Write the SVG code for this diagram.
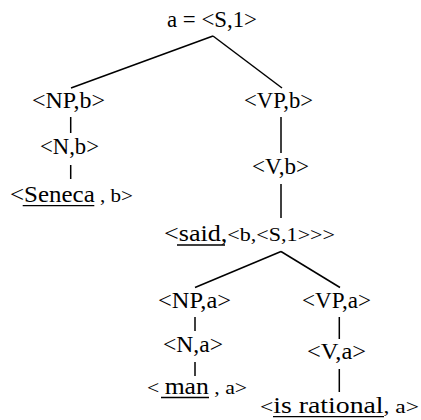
<svg xmlns="http://www.w3.org/2000/svg" width="421" height="420" viewBox="0 0 421 420">
  <style>
    .lbl { font-family: "Liberation Serif", "Times New Roman", serif; font-size: 22.5px; fill: #000; }
    .sm { font-size: 19px; }
    .edge { stroke: #000; stroke-width: 1.5; fill: none; }
    .ul { stroke: #000; stroke-width: 1.3; }
  </style>
  <rect width="421" height="420" fill="#fff"/>

  <g id="connectors">
    <line class="edge" x1="213" y1="36" x2="71" y2="88"/>
    <line class="edge" x1="213" y1="36" x2="282" y2="88"/>
    <line class="edge" x1="70.7" y1="117" x2="70.7" y2="133"/>
    <line class="edge" x1="70.7" y1="165" x2="70.7" y2="179"/>
    <line class="edge" x1="281" y1="117" x2="281" y2="153"/>
    <line class="edge" x1="281" y1="184" x2="281" y2="218"/>
    <line class="edge" x1="281" y1="251.5" x2="195" y2="287.5"/>
    <line class="edge" x1="281" y1="251.5" x2="340" y2="287.5"/>
    <line class="edge" x1="195" y1="317" x2="195" y2="331"/>
    <line class="edge" x1="195" y1="362" x2="195" y2="376"/>
    <line class="edge" x1="339.3" y1="317" x2="339.3" y2="339"/>
    <line class="edge" x1="339.3" y1="369" x2="339.3" y2="392"/>
  </g>

  <g id="node-root">
    <text class="lbl" x="167" y="27" textLength="90" lengthAdjust="spacingAndGlyphs">a = &lt;S,1&gt;</text>
  </g>
  <g id="node-np-b">
    <text class="lbl" x="32" y="108" textLength="73" lengthAdjust="spacingAndGlyphs">&lt;NP,b&gt;</text>
  </g>
  <g id="node-vp-b">
    <text class="lbl" x="244" y="108" textLength="69" lengthAdjust="spacingAndGlyphs">&lt;VP,b&gt;</text>
  </g>
  <g id="node-n-b">
    <text class="lbl" x="40" y="154" textLength="59" lengthAdjust="spacingAndGlyphs">&lt;N,b&gt;</text>
  </g>
  <g id="node-seneca">
    <text class="lbl" x="10" y="201.5" textLength="123" lengthAdjust="spacingAndGlyphs">&lt;Seneca<tspan class="sm"> , b&gt;</tspan></text>
    <line class="ul" x1="22.7" y1="205.7" x2="94.3" y2="205.7"/>
  </g>
  <g id="node-v-b">
    <text class="lbl" x="252" y="174" textLength="57" lengthAdjust="spacingAndGlyphs">&lt;V,b&gt;</text>
  </g>
  <g id="node-said">
    <text class="lbl" x="164" y="240.5" textLength="171" lengthAdjust="spacingAndGlyphs">&lt;said,<tspan class="sm">&lt;b,&lt;S,1&gt;&gt;&gt;</tspan></text>
    <line class="ul" x1="177" y1="245" x2="225" y2="245"/>
  </g>
  <g id="node-np-a">
    <text class="lbl" x="158" y="308" textLength="73" lengthAdjust="spacingAndGlyphs">&lt;NP,a&gt;</text>
  </g>
  <g id="node-vp-a">
    <text class="lbl" x="302" y="308" textLength="69" lengthAdjust="spacingAndGlyphs">&lt;VP,a&gt;</text>
  </g>
  <g id="node-n-a">
    <text class="lbl" x="163" y="352" textLength="60" lengthAdjust="spacingAndGlyphs">&lt;N,a&gt;</text>
  </g>
  <g id="node-man">
    <text class="lbl" x="147" y="394" textLength="100" lengthAdjust="spacingAndGlyphs"><tspan class="sm">&lt; </tspan>man<tspan class="sm"> , a&gt;</tspan></text>
    <line class="ul" x1="161" y1="397.5" x2="209" y2="397.5"/>
  </g>
  <g id="node-v-a">
    <text class="lbl" x="307" y="359" textLength="59" lengthAdjust="spacingAndGlyphs">&lt;V,a&gt;</text>
  </g>
  <g id="node-is-rational">
    <text class="lbl" x="260" y="413" textLength="159" lengthAdjust="spacingAndGlyphs"><tspan class="sm">&lt;</tspan>is rational<tspan class="sm">, a&gt;</tspan></text>
    <line class="ul" x1="273" y1="416.7" x2="384" y2="416.7"/>
  </g>
</svg>
